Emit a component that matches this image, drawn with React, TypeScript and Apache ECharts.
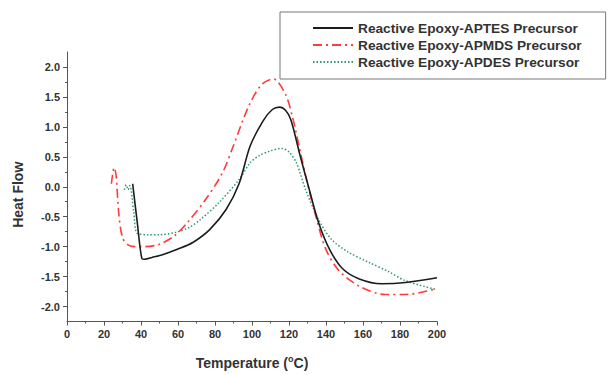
import React, { useEffect, useRef } from "react";
import * as echarts from "echarts";

const seriesNames = [
  "Reactive Epoxy-APTES Precursor",
  "Reactive Epoxy-APMDS Precursor",
  "Reactive Epoxy-APDES Precursor",
];

const aptesT = [35.5, 38, 40.5, 42, 46, 52, 60, 68, 77, 86, 93, 99, 106, 111, 115, 118, 121, 126, 131, 136, 142, 149, 158, 170, 183, 200];
const aptesV = [0.05, -0.6, -1.2, -1.21, -1.18, -1.13, -1.04, -0.93, -0.72, -0.38, 0.05, 0.68, 1.1, 1.29, 1.33, 1.28, 1.12, 0.52, -0.05, -0.6, -1.05, -1.37, -1.54, -1.62, -1.6, -1.52];

const apmdsT = [24, 25.5, 26.5, 28, 30, 33, 37, 42, 50, 58, 65, 75, 84, 90, 98, 105, 111.5, 118, 122, 126, 130, 135, 140, 147, 158, 172, 183, 200];
const apmdsV = [0.05, 0.32, 0.2, -0.45, -0.85, -0.97, -1.0, -1.0, -0.96, -0.82, -0.6, -0.21, 0.23, 0.69, 1.33, 1.7, 1.8, 1.55, 1.15, 0.6, 0.05, -0.55, -1.05, -1.4, -1.66, -1.8, -1.8, -1.7];

const apdesT = [31, 32, 33, 34, 36, 38, 44, 50, 59, 66, 72, 82, 93, 99, 104, 110, 116, 120, 124, 129, 136, 143, 152, 163, 174, 183, 200];
const apdesV = [-0.05, 0.03, -0.05, 0.02, -0.4, -0.78, -0.8, -0.8, -0.76, -0.68, -0.55, -0.27, 0.12, 0.4, 0.52, 0.6, 0.64, 0.58, 0.4, -0.05, -0.55, -0.88, -1.09, -1.26, -1.42, -1.57, -1.72];

const yMajorTicks = [-2, -1.5, -1, -0.5, 0, 0.5, 1, 1.5, 2];
const yMinorTicks = [-1.75, -1.25, -0.75, -0.25, 0.25, 0.75, 1.25, 1.75];

const colors = ["#1c1c1c", "#ff3b3b", "#2e9a6c"];

const zip = (t: number[], v: number[]) => t.map((x, i) => [x, v[i]]);

const FONT = "'Liberation Sans', Arial, sans-serif";

export default function App() {
  const ref = useRef<HTMLDivElement>(null);
  useEffect(() => {
    if (!ref.current) return;
    const chart = echarts.init(ref.current, null, { renderer: "svg" });
    const axisColor = "#555";
    const labelStyle = { color: "#333", fontSize: 11, fontWeight: "bold" as const, fontFamily: FONT };
    chart.setOption({
      animation: false,
      backgroundColor: "#fff",
      grid: { left: 67, right: 176, top: 52, bottom: 50 },
      legend: {
        orient: "vertical",
        left: 280,
        top: 12,
        padding: [9, 24, 10, 32],
        borderColor: "#777",
        borderWidth: 1,
        itemWidth: 40,
        itemHeight: 14,
        itemGap: 3,
        itemStyle: { opacity: 0 },
        textStyle: { color: "#333", fontSize: 13.7, fontWeight: "bold", fontFamily: FONT },
        data: seriesNames,
      },
      xAxis: {
        type: "value",
        min: 0,
        max: 200,
        interval: 20,
        name: "Temperature ({sup|o}C)",
        nameLocation: "middle",
        nameGap: 33,
        nameTextStyle: {
          color: "#333",
          fontSize: 14,
          fontWeight: "bold",
          fontFamily: FONT,
          rich: {
            sup: { fontSize: 9, fontWeight: "bold", verticalAlign: "top", padding: [0, 0, 8, 0], color: "#333", fontFamily: FONT },
          },
        },
        axisLine: { show: true, onZero: false, lineStyle: { color: axisColor, width: 1 } },
        axisTick: { show: true, length: 4, lineStyle: { color: axisColor } },
        minorTick: { show: true, splitNumber: 2, length: 2, lineStyle: { color: axisColor } },
        axisLabel: { ...labelStyle, margin: 7 },
        splitLine: { show: false },
      },
      yAxis: [
        {
          type: "value",
          min: -2.25,
          max: 2.25,
          position: "left",
          name: "Heat Flow",
          nameLocation: "middle",
          nameGap: 42,
          nameTextStyle: { color: "#333", fontSize: 14, fontWeight: "bold", fontFamily: FONT, padding: [0, 0, 0, -16] },
          axisLine: { show: true, onZero: false, lineStyle: { color: axisColor, width: 1 } },
          axisTick: { show: true, length: 4, customValues: yMajorTicks, lineStyle: { color: axisColor } },
          axisLabel: {
            ...labelStyle,
            margin: 7,
            customValues: yMajorTicks,
            formatter: (v: number) => v.toFixed(1),
          },
          splitLine: { show: false },
        },
        {
          type: "value",
          min: -2.25,
          max: 2.25,
          position: "left",
          axisLine: { show: false },
          axisTick: { show: true, length: 2, customValues: yMinorTicks, lineStyle: { color: axisColor } },
          axisLabel: { show: false },
          splitLine: { show: false },
        },
      ],
      series: [
        {
          name: seriesNames[0],
          type: "line",
          data: zip(aptesT, aptesV),
          showSymbol: false,
          symbol: "none",
          smooth: 0.3,
          lineStyle: { color: colors[0], width: 1.6 },
          itemStyle: { color: colors[0] },
          z: 3,
        },
        {
          name: seriesNames[1],
          type: "line",
          data: zip(apmdsT, apmdsV),
          showSymbol: false,
          symbol: "none",
          smooth: 0.3,
          lineStyle: { color: colors[1], width: 1.6, type: [9, 4, 2, 4] },
          itemStyle: { color: colors[1] },
          z: 2,
        },
        {
          name: seriesNames[2],
          type: "line",
          data: zip(apdesT, apdesV),
          showSymbol: false,
          symbol: "none",
          smooth: 0.3,
          lineStyle: { color: colors[2], width: 1.5, type: [1.5, 2] },
          itemStyle: { color: colors[2] },
          z: 1,
        },
      ],
    });
    return () => chart.dispose();
  }, []);
  return <div ref={ref} style={{ width: 613, height: 375, position: "absolute", left: 0, top: 0 }} />;
}
